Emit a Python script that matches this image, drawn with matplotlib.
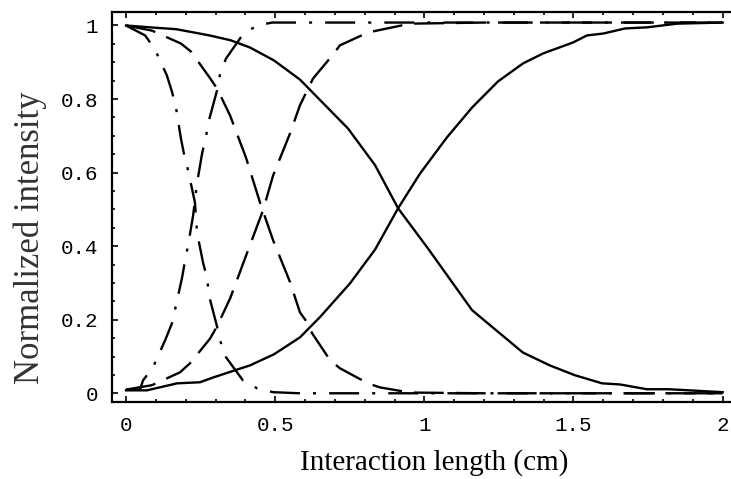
import numpy as np
import matplotlib
matplotlib.use("Agg")
import matplotlib.pyplot as plt
from matplotlib.ticker import MultipleLocator, FuncFormatter

plt.rcParams['lines.scale_dashes'] = False

# solid pair
sol_dec_x = [0, 0.08, 0.168, 0.28, 0.35, 0.416, 0.496, 0.583, 0.744, 0.835, 0.912, 1.012,
             1.16, 1.33, 1.42, 1.505, 1.596, 1.656, 1.746, 1.82, 2.0]
sol_dec_y = [1.0, 0.995, 0.99, 0.973, 0.96, 0.94, 0.905, 0.853, 0.72, 0.62, 0.503, 0.394,
             0.226, 0.111, 0.076, 0.049, 0.027, 0.024, 0.011, 0.011, 0.003]
sol_inc_x = [0, 0.07, 0.171, 0.248, 0.292, 0.416, 0.496, 0.583, 0.65, 0.751, 0.835, 0.912,
             0.986, 1.076, 1.16, 1.247, 1.331, 1.398, 1.499, 1.545, 1.599, 1.673, 1.747,
             1.847, 2.0]
sol_inc_y = [0.008, 0.008, 0.027, 0.03, 0.043, 0.076, 0.106, 0.152, 0.207, 0.299, 0.391,
             0.503, 0.598, 0.696, 0.777, 0.848, 0.897, 0.924, 0.954, 0.973, 0.978, 0.992,
             0.995, 1.005, 1.008]

# dashed pair
dsh_dec_x = [0, 0.087, 0.184, 0.218, 0.278, 0.305, 0.349, 0.402, 0.449, 0.493, 0.55, 0.583,
             0.607, 0.624, 0.684, 0.717, 0.811, 0.851, 0.952, 1.2, 1.6, 2.0]
dsh_dec_y = [1.0, 0.986, 0.951, 0.929, 0.861, 0.829, 0.755, 0.641, 0.519, 0.416, 0.302, 0.22,
             0.193, 0.163, 0.09, 0.068, 0.027, 0.016, 0.002, 0.0, 0.0, 0.0]
dsh_inc_x = [0, 0.087, 0.181, 0.215, 0.282, 0.305, 0.349, 0.399, 0.459, 0.493, 0.55, 0.583,
             0.627, 0.691, 0.717, 0.811, 0.952, 1.2, 1.6, 2.0]
dsh_inc_y = [0.01, 0.022, 0.057, 0.082, 0.149, 0.182, 0.258, 0.367, 0.497, 0.592, 0.707, 0.783,
             0.856, 0.918, 0.946, 0.981, 1.005, 1.008, 1.008, 1.008]

# dash-dot pair
dd_dec_x = [0, 0.064, 0.097, 0.137, 0.154, 0.168, 0.184, 0.194, 0.208, 0.231, 0.238, 0.258,
            0.272, 0.278, 0.305, 0.315, 0.335, 0.392, 0.439, 0.493, 0.583, 1.0, 1.5, 2.0]
dd_dec_y = [1.0, 0.973, 0.935, 0.864, 0.82, 0.774, 0.693, 0.652, 0.606, 0.519, 0.4375, 0.356,
            0.3125, 0.266, 0.182, 0.144, 0.098, 0.035, 0.0136, 0.003, 0.0, 0.0, 0.0, 0.0]
dd_inc_x = [0, 0.047, 0.057, 0.09, 0.131, 0.154, 0.164, 0.188, 0.198, 0.208, 0.225, 0.238,
            0.255, 0.268, 0.278, 0.305, 0.315, 0.335, 0.392, 0.439, 0.49, 1.0, 1.5, 2.0]
dd_inc_y = [0.01, 0.01, 0.035, 0.07, 0.144, 0.19, 0.226, 0.315, 0.361, 0.402, 0.484, 0.571,
            0.652, 0.698, 0.742, 0.823, 0.867, 0.91, 0.976, 1.0, 1.008, 1.008, 1.008, 1.008]

fig = plt.figure(figsize=(7.31, 4.79), dpi=100)
ax = fig.add_axes([112/731, 1 - 402/479, 1 - 112/731, (402 - 12)/479])

lw = 1.7
dashed = (21.6, 8.6)
dashdot = (21.6, 9.4, 2.2, 9.4)

ax.plot(sol_dec_x, sol_dec_y, '-', color='black', lw=lw)
ax.plot(sol_inc_x, sol_inc_y, '-', color='black', lw=lw)
ax.plot(dsh_dec_x, dsh_dec_y, color='black', lw=lw, dashes=dashed)
ax.plot(dsh_inc_x, dsh_inc_y, color='black', lw=lw, dashes=dashed)
ax.plot(dd_dec_x, dd_dec_y, color='black', lw=lw, dashes=dashdot)
ax.plot(dd_inc_x, dd_inc_y, color='black', lw=lw, dashes=dashdot)

ax.set_xlim(-0.047, 2.028)
ax.set_ylim(-0.0237, 1.0367)

ax.spines['right'].set_visible(False)
for s in ['left', 'bottom', 'top']:
    ax.spines[s].set_linewidth(1.6)

ax.xaxis.set_major_locator(MultipleLocator(0.5))
ax.xaxis.set_minor_locator(MultipleLocator(0.1))
ax.yaxis.set_major_locator(MultipleLocator(0.2))
ax.yaxis.set_minor_locator(MultipleLocator(0.05))

fmt = FuncFormatter(lambda v, p: ('%g' % round(v, 3)))
ax.xaxis.set_major_formatter(fmt)
ax.yaxis.set_major_formatter(fmt)

ax.tick_params(which='both', direction='in', top=True, right=False, width=1.2, color='black')
ax.tick_params(which='major', length=4)
ax.tick_params(which='minor', length=2.5)
ax.tick_params(axis='x', which='major', pad=10)
ax.tick_params(axis='y', which='major', pad=10)
for lab in ax.get_xticklabels() + ax.get_yticklabels():
    lab.set_family('Liberation Mono')
    lab.set_fontsize(15)

fig.text(434/731, 1 - 463/479, 'Interaction length (cm)', family='Liberation Serif',
         fontsize=21, ha='center', va='center')
fig.text(30/731, 1 - 238/479, 'Normalized intensity', family='Liberation Serif',
         fontsize=25, ha='center', va='center', rotation=90, color='#333333')

fig.savefig('out.png', dpi=100)
